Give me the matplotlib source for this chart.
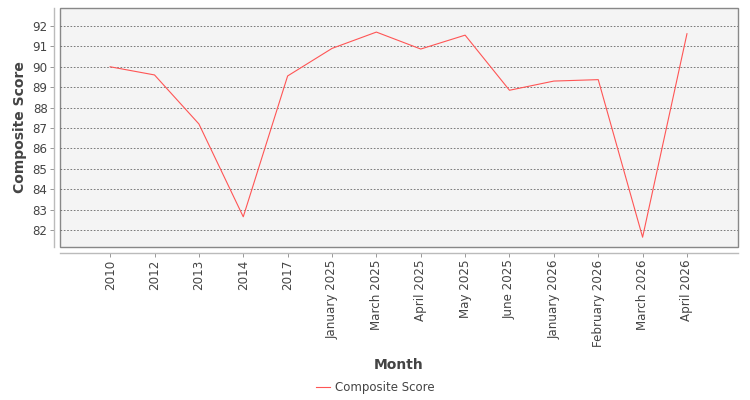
import matplotlib
matplotlib.use("Agg")
import matplotlib.pyplot as plt

# category labels and scores
months = ["2010", "2012", "2013", "2014", "2017", "January 2025", "March 2025",
          "April 2025", "May 2025", "June 2025", "January 2026", "February 2026",
          "March 2026", "April 2026"]
scores = [90.0, 89.6, 87.2, 82.65, 89.55, 90.9, 91.7, 90.87, 91.55, 88.85,
          89.3, 89.37, 81.65, 91.62]
y_ticks = [82, 83, 84, 85, 86, 87, 88, 89, 90, 91, 92]

plt.rcParams['font.family'] = ['DejaVu Sans']
fig = plt.figure(figsize=(7.5, 4.0), dpi=100)
ax = fig.add_axes([60 / 750, 1 - 247 / 400, 678 / 750, 239 / 400])

# spines first - set_position resets the tick labels
for side in ["top", "right"]:
    ax.spines[side].set_visible(False)
for side in ["left", "bottom"]:
    ax.spines[side].set_position(("outward", 4))
    ax.spines[side].set_color("#bbbbbb")
    ax.spines[side].set_linewidth(1.0)

xs = list(range(len(months)))
ax.plot(xs, scores, color="#ff5555", linewidth=0.8, label="Composite Score")

ax.set_xlim(-1.13, len(months) - 1 + 1.15)
ax.set_ylim(81.17, 92.88)
ax.set_xticks(xs)
ax.set_xticklabels(months, rotation=90, fontsize=8.6, color="#444444")
ax.set_yticks(y_ticks)
ax.set_yticklabels([str(t) for t in y_ticks], fontsize=8.6, color="#444444")
ax.tick_params(axis="both", length=3, width=0.6, color="#888888", pad=2)

#plot background and border
ax.set_facecolor("#f4f4f4")
ax.patch.set_edgecolor("#888888")
ax.patch.set_linewidth(1.0)
ax.grid(axis="y", linestyle=(0, (2, 2)), color="#666666", linewidth=0.6)
ax.set_axisbelow(True)

ax.set_xlabel("Month", fontsize=10, fontweight="bold", color="#444444", va="center")
ax.xaxis.set_label_coords(0.5, -0.494)
ax.set_ylabel("Composite Score", fontsize=10, fontweight="bold", color="#444444", va="center")
ax.yaxis.set_label_coords(-0.059, 0.5)

fig.legend(loc="center", bbox_to_anchor=(0.5, 0.032), frameon=False, fontsize=8.5,
           handlelength=1.2, handletextpad=0.4, labelcolor="#444444")

fig.savefig("out.png", dpi=100)
